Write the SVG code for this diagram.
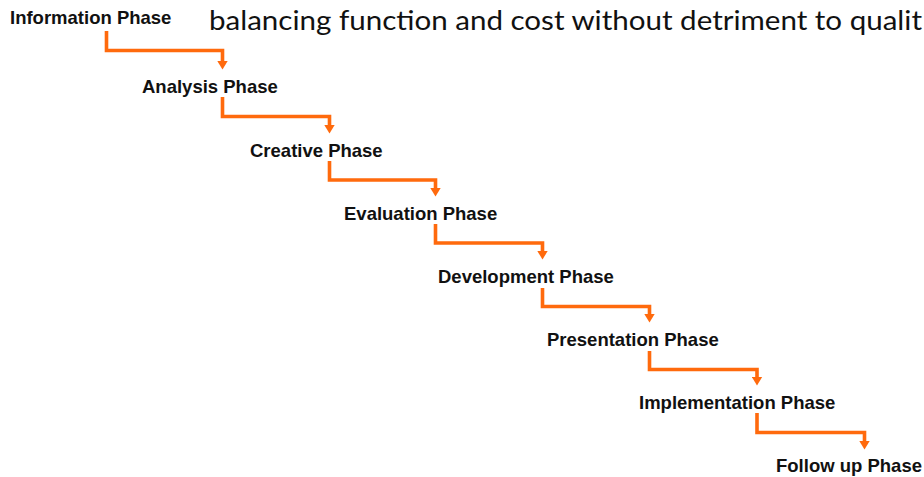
<svg xmlns="http://www.w3.org/2000/svg" width="924" height="477" viewBox="0 0 924 477">
<style>
.lbl{font-family:"Liberation Sans",Arial,sans-serif;font-weight:bold;font-size:18.5px;fill:#111}
.title{font-family:Lato,"Open Sans",sans-serif;font-size:26px;fill:#111}
.conn{fill:none;stroke:#FF6A0D;stroke-width:3.6;stroke-linejoin:miter}
</style>
<defs>
<marker id="ah" markerUnits="userSpaceOnUse" viewBox="0 0 9 11" refX="0.5" refY="5.5" markerWidth="9" markerHeight="11" orient="auto" preserveAspectRatio="none">
<path d="M0,0 L9,5.5 L0,11 z" fill="#FF6A0D"/>
</marker>
</defs>
<rect width="924" height="477" fill="#fff"/>
<text class="title" x="209" y="29.5" textLength="713" lengthAdjust="spacingAndGlyphs">balancing function and cost without detriment to qualit</text>
<g id="connectors">
<polyline class="conn" points="106.5,31 106.5,50.5 222.5,50.5 222.5,61" marker-end="url(#ah)"/>
<polyline class="conn" points="222.5,97 222.5,116.5 329.5,116.5 329.5,125" marker-end="url(#ah)"/>
<polyline class="conn" points="329.5,161 329.5,180 435.5,180 435.5,188" marker-end="url(#ah)"/>
<polyline class="conn" points="435.5,224 435.5,243 542.5,243 542.5,251" marker-end="url(#ah)"/>
<polyline class="conn" points="542.5,288 542.5,306.5 649.5,306.5 649.5,314" marker-end="url(#ah)"/>
<polyline class="conn" points="649.5,351 649.5,369.5 757,369.5 757,377" marker-end="url(#ah)"/>
<polyline class="conn" points="757,413 757,432.5 864.5,432.5 864.5,441" marker-end="url(#ah)"/>
</g>
<g id="information"><text class="lbl" x="10" y="24">Information Phase</text></g>
<g id="analysis"><text class="lbl" x="142" y="93">Analysis Phase</text></g>
<g id="creative"><text class="lbl" x="250" y="157">Creative Phase</text></g>
<g id="evaluation"><text class="lbl" x="344" y="220">Evaluation Phase</text></g>
<g id="development"><text class="lbl" x="438" y="283">Development Phase</text></g>
<g id="presentation"><text class="lbl" x="547" y="346">Presentation Phase</text></g>
<g id="implementation"><text class="lbl" x="639" y="409">Implementation Phase</text></g>
<g id="followup"><text class="lbl" x="776" y="472">Follow up Phase</text></g>
</svg>
